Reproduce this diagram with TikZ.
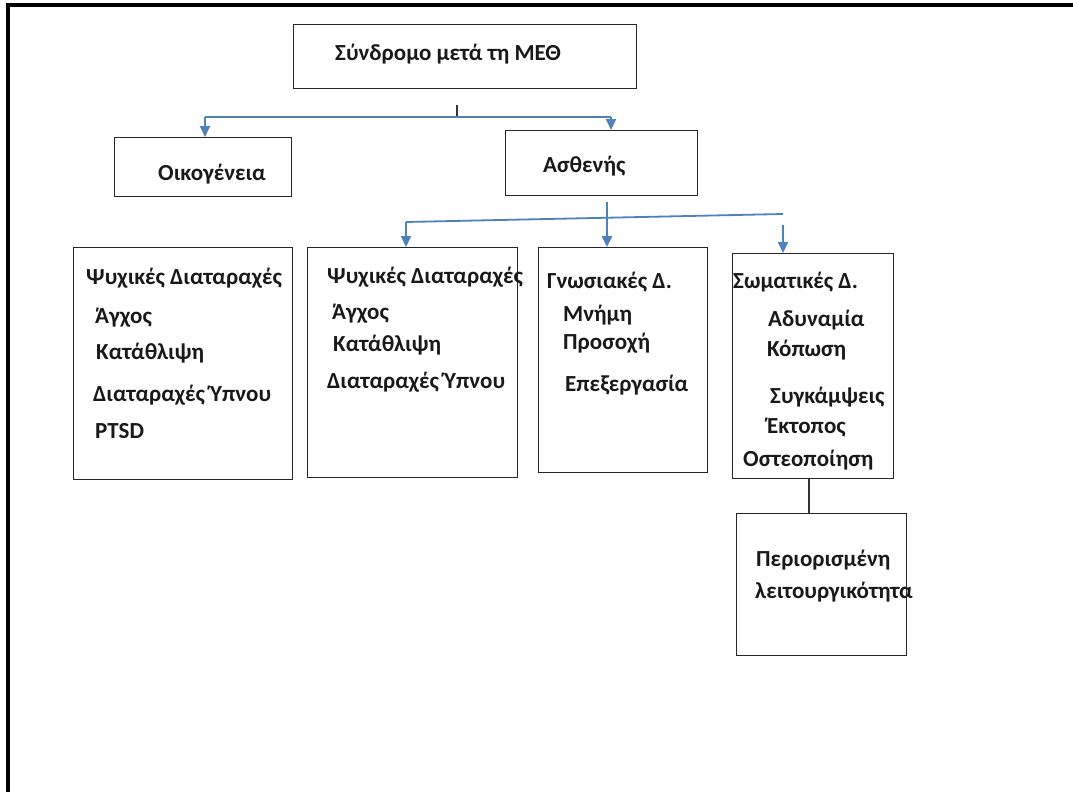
\documentclass[tikz,border=0pt]{standalone}
\usepackage{fontspec}
\setmainfont{Carlito}
\usetikzlibrary{arrows.meta,calc}
\definecolor{conblue}{RGB}{79,129,189}
\begin{document}
\begin{tikzpicture}[x=1pt,y=-1pt,
  box/.style={draw=black!85,line width=1.3pt,inner sep=0pt,anchor=north west},
  txt/.style={anchor=base west,inner sep=0pt,text=black!90,font=\fontsize{23}{27}\selectfont\bfseries},
  bline/.style={draw=conblue,line width=1.8pt},
  barrow/.style={draw=conblue,line width=2pt,-{Triangle[length=11pt,width=10pt]},fill=conblue},
  kline/.style={draw=black!80,line width=1.2pt}]
\useasboundingbox (0,0) rectangle (1073,792);
\fill[white] (0,0) rectangle (1073,792);
% frame
\draw[line width=4pt,line cap=rect] (1075,5) -- (8,5) -- (8,794);
% boxes
\node[box,minimum width=343pt,minimum height=64pt] (top) at (293,24) {};
\node[box,minimum width=177pt,minimum height=59pt] (oik) at (114,137) {};
\node[box,minimum width=192pt,minimum height=65pt] (ast) at (505,130) {};
\node[box,minimum width=219pt,minimum height=232pt] (psyA) at (73,247) {};
\node[box,minimum width=210pt,minimum height=230pt] (psyB) at (307,247) {};
\node[box,minimum width=169pt,minimum height=225pt] (gno) at (538,247) {};
\node[box,minimum width=161pt,minimum height=225pt] (som) at (732,253) {};
\node[box,minimum width=170pt,minimum height=142pt] (per) at (736,513) {};
% texts
\node[txt] (tTop) at (335,61) {Σύνδρομο μετά τη ΜΕΘ};
\node[txt] (tOik) at (158,180) {Οικογένεια};
\node[txt] (tAst) at (543,172) {Ασθενής};
\node[txt] (a1) at (86,284) {Ψυχικές Διαταραχές};
\node[txt] (a2) at (95,323) {Άγχος};
\node[txt] (a3) at (96,359) {Κατάθλιψη};
\node[txt] (a4) at (93,401) {Διαταραχές Ύπνου};
\node[txt] (a5) at (95,438) {PTSD};
\node[txt] (b1) at (327,283) {Ψυχικές Διαταραχές};
\node[txt] (b2) at (332,319) {Άγχος};
\node[txt] (b3) at (333,351) {Κατάθλιψη};
\node[txt] (b4) at (327,388) {Διαταραχές Ύπνου};
\node[txt] (c1) at (547,288) {Γνωσιακές Δ.};
\node[txt] (c2) at (563,321) {Μνήμη};
\node[txt] (c3) at (563,349) {Προσοχή};
\node[txt] (c4) at (565,391) {Επεξεργασία};
\node[txt] (d1) at (733,288) {Σωματικές Δ.};
\node[txt] (d2) at (768,326) {Αδυναμία};
\node[txt] (d3) at (767,356) {Κόπωση};
\node[txt] (d4) at (770,403) {Συγκάμψεις};
\node[txt] (d5) at (767,433) {Έκτοπος};
\node[txt] (d6) at (743,466) {Οστεοποίηση};
\node[txt] (e1) at (756,566) {Περιορισμένη};
\node[txt] (e2) at (755,598) {λειτουργικότητα};
% connector points
\coordinate (tick) at (457,105);
\coordinate (j1) at (457,117);
\coordinate (hl) at (205,117);
\coordinate (hr) at (611,117);
\coordinate (m0) at (607,202);
\coordinate (sl) at (406,222);
\coordinate (sr) at (783,214);
\coordinate (sr2) at (783,225);
% connectors
\draw[kline] (tick) -- (j1);
\draw[bline] (hl) -- (hr);
\draw[barrow] (hl) -- (hl |- oik.north);
\draw[barrow] (hr) -- (hr |- ast.north);
\draw[bline] (sl) -- (sr);
\draw[barrow,line width=2.6pt] (m0) -- (m0 |- gno.north);
\draw[barrow] (sl) -- (sl |- psyB.north);
\draw[barrow] (sr2) -- (sr2 |- som.north);
\draw[kline] (som.south -| 809,0) -- (per.north -| 809,0);
\end{tikzpicture}
\end{document}
